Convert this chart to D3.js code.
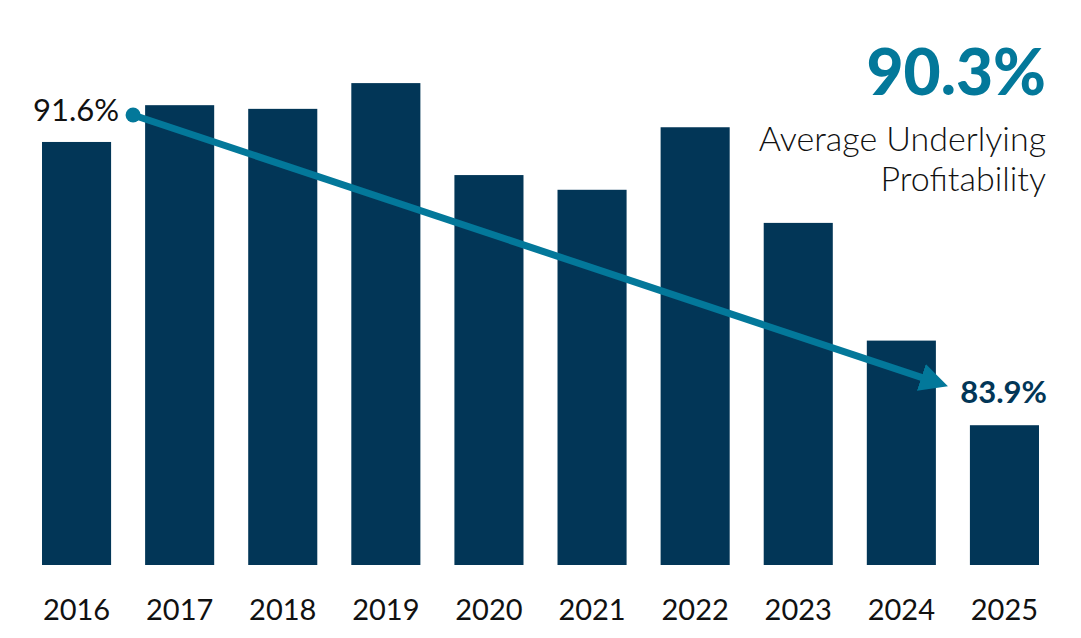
<!DOCTYPE html>
<html>
<head>
<meta charset="utf-8">
<script src="https://cdn.jsdelivr.net/npm/d3@7"></script>
<style>
  body { margin: 0; background: #fff; }
  text { font-family: Lato, "Noto Sans", sans-serif; }
</style>
</head>
<body>
<div id="chart"></div>
<script>

// data
var years           =   ["2016", "2017", "2018", "2019", "2020", "2021", "2022", "2023", "2024", "2025"];
var profitability   =   [91.6, 92.6, 92.5, 93.2, 90.7, 90.3, 92.0, 89.4, 86.2, 83.9];
var average_label   =   "90.3%";
var caption_lines   =   ["Average Underlying", "Profitability"];

// --------------------------------------------------------

// size
var chart_width     =   1081;
var chart_height    =   638;
var baseline        =   565;

var bar_color       =   "#023657";
var teal            =   "#03789a";

// --------------------------------------------------------

var svg = d3.select("#chart")
    .append("svg")
    .attr("width", chart_width)
    .attr("height", chart_height);

// scales
const x_scale = d3.scaleBand()
    .domain(years)
    .range([25, 1056])
    .paddingInner(0.33)
    .paddingOuter(0.165);

const y_scale = d3.scaleLinear()
    .domain([80.1, 94.1])
    .range([baseline, 50]);

// --------------------------------------------------------
// bars
svg.selectAll("rect")
    .data(years)
    .enter()
    .append("rect")
    .attr("x", (d) => x_scale(d))
    .attr("y", (d, i) => y_scale(profitability[i]))
    .attr("width", x_scale.bandwidth())
    .attr("height", (d, i) => baseline - y_scale(profitability[i]))
    .attr("fill", bar_color);

// year labels
svg.selectAll(".year")
    .data(years)
    .enter()
    .append("text")
    .attr("class", "year")
    .attr("x", (d) => x_scale(d) + x_scale.bandwidth() / 2)
    .attr("y", 620)
    .attr("text-anchor", "middle")
    .attr("font-size", 29)
    .attr("fill", "#111")
    .text((d) => d);

// --------------------------------------------------------
// trend arrow from first to last value
var first = 0, last = years.length - 1;
var x0 = x_scale(years[first]) + x_scale.bandwidth() + 22;
var y0 = y_scale(profitability[first]) - 27;
var x1 = x_scale(years[last]) - 22;
var y1 = y_scale(profitability[last]) - 39;

svg.append("defs")
    .append("marker")
    .attr("id", "head")
    .attr("viewBox", "0 0 10 10")
    .attr("refX", 2)
    .attr("refY", 5)
    .attr("markerWidth", 4)
    .attr("markerHeight", 4)
    .attr("markerUnits", "strokeWidth")
    .attr("orient", "auto")
    .append("path")
    .attr("d", "M0,0 L10,5 L0,10 Z")
    .attr("fill", teal);

// shorten line so the head tip lands on (x1, y1)
var ang = Math.atan2(y1 - y0, x1 - x0);
var head_len = 7 * 4 * 0.8;
svg.append("line")
    .attr("x1", x0)
    .attr("y1", y0)
    .attr("x2", x1 - Math.cos(ang) * head_len)
    .attr("y2", y1 - Math.sin(ang) * head_len)
    .attr("stroke", teal)
    .attr("stroke-width", 7)
    .attr("marker-end", "url(#head)");

svg.append("circle")
    .attr("cx", x0)
    .attr("cy", y0)
    .attr("r", 7.5)
    .attr("fill", teal);

// end labels
svg.append("text")
    .attr("x", x0 - 14)
    .attr("y", y0 + 6)
    .attr("text-anchor", "end")
    .attr("font-size", 31)
    .attr("fill", "#111")
    .text(profitability[first].toFixed(1) + "%");

svg.append("text")
    .attr("x", 1047)
    .attr("y", 403)
    .attr("text-anchor", "end")
    .attr("font-size", 31)
    .attr("font-weight", 700)
    .attr("fill", bar_color)
    .text(profitability[last].toFixed(1) + "%");

// --------------------------------------------------------
// average callout
svg.append("text")
    .attr("x", 1046)
    .attr("y", 95)
    .attr("text-anchor", "end")
    .attr("font-size", 64)
    .attr("font-weight", 900)
    .attr("fill", teal)
    .text(average_label);

svg.selectAll(".caption")
    .data(caption_lines)
    .enter()
    .append("text")
    .attr("class", "caption")
    .attr("x", 1046)
    .attr("y", (d, i) => 151 + i * 40)
    .attr("text-anchor", "end")
    .attr("font-size", 34)
    .attr("font-weight", 300)
    .attr("fill", "#111")
    .text((d) => d);

</script>
</body>
</html>
